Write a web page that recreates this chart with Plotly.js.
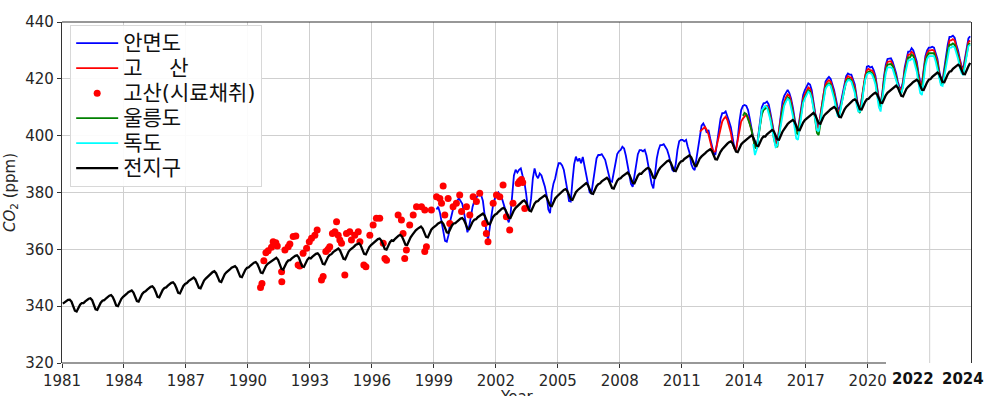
<!DOCTYPE html>
<html><head><meta charset="utf-8">
<script src="https://cdn.plot.ly/plotly-3.0.1.min.js"></script>
<style>html,body{margin:0;padding:0;background:#fff}#chart{width:996px;height:396px}</style>
</head><body><div id="chart"></div>
<script>
// ---- data (monthly series) ----
const globalStart = [1981, 1];
const globalCO2 = [
340.9,341.4,341.9,342.2,342.3,341.6,340.0,338.4,338.1,339.5,340.5,341.1,
341.1,341.7,342.2,342.6,342.8,342.1,340.5,338.9,338.7,340.1,341.2,341.9,
342.1,342.7,343.3,343.7,343.9,343.2,341.8,340.2,340.0,341.4,342.6,343.3,
343.7,344.3,344.9,345.3,345.5,344.8,343.4,341.8,341.6,343.0,344.2,344.9,
345.2,345.8,346.4,346.8,347.0,346.3,344.9,343.3,343.1,344.5,345.7,346.4,
346.6,347.2,347.8,348.2,348.4,347.7,346.3,344.7,344.5,345.9,347.1,347.8,
348.1,348.8,349.3,349.8,350.1,349.4,348.0,346.5,346.3,347.8,349.0,349.7,
350.3,351.0,351.5,352.0,352.3,351.6,350.2,348.7,348.5,350.0,351.2,351.9,
352.3,352.9,353.5,353.9,354.1,353.4,352.0,350.4,350.2,351.6,352.8,353.5,
353.7,354.3,354.9,355.3,355.5,354.8,353.4,351.8,351.6,353.0,354.2,354.9,
355.3,355.9,356.4,356.8,357.0,356.3,354.7,353.1,352.9,354.3,355.4,356.1,
356.2,356.8,357.3,357.7,357.9,357.2,355.6,354.0,353.8,355.2,356.3,357.0,
356.8,357.4,358.0,358.4,358.6,357.9,356.5,354.9,354.7,356.1,357.3,358.0,
358.3,359.0,359.5,360.0,360.3,359.6,358.2,356.7,356.5,358.0,359.2,359.9,
360.3,360.9,361.5,361.9,362.1,361.4,360.0,358.4,358.2,359.6,360.8,361.5,
362.0,362.6,363.2,363.6,363.8,363.1,361.7,360.1,359.9,361.3,362.5,363.2,
363.0,363.7,364.3,364.8,365.1,364.5,363.1,361.6,361.5,363.0,364.2,365.1,
366.0,366.7,367.2,367.7,368.0,367.3,365.9,364.4,364.2,365.7,366.9,367.6,
367.9,368.5,369.1,369.5,369.7,369.0,367.6,366.0,365.8,367.2,368.4,369.1,
369.2,369.8,370.4,370.8,371.0,370.3,368.9,367.3,367.1,368.5,369.7,370.4,
370.6,371.3,371.8,372.3,372.6,371.9,370.5,369.0,368.8,370.3,371.5,372.2,
372.5,373.2,373.8,374.3,374.6,374.0,372.6,371.1,371.0,372.5,373.7,374.6,
375.2,375.9,376.4,376.9,377.2,376.5,375.1,373.6,373.4,374.9,376.1,376.8,
377.0,377.7,378.2,378.7,379.0,378.3,376.9,375.4,375.2,376.7,377.9,378.6,
379.2,379.9,380.4,380.9,381.2,380.5,379.1,377.6,377.4,378.9,380.1,380.8,
381.3,382.0,382.5,383.0,383.3,382.6,381.2,379.7,379.5,381.0,382.2,382.9,
383.2,383.9,384.4,384.9,385.2,384.5,383.1,381.6,381.4,382.9,384.1,384.8,
385.0,385.7,386.2,386.7,387.0,386.3,384.9,383.4,383.2,384.7,385.9,386.6,
386.6,387.3,387.9,388.4,388.7,388.1,386.7,385.2,385.1,386.6,387.8,388.7,
389.3,390.0,390.5,391.0,391.3,390.6,389.2,387.7,387.5,389.0,390.2,390.9,
391.1,391.8,392.3,392.8,393.1,392.4,391.0,389.5,389.3,390.8,392.0,392.7,
393.1,393.8,394.4,394.9,395.2,394.6,393.2,391.7,391.6,393.1,394.3,395.2,
396.0,396.7,397.2,397.7,398.0,397.3,395.9,394.4,394.2,395.7,396.9,397.6,
398.1,398.8,399.3,399.8,400.1,399.4,398.0,396.5,396.3,397.8,399.0,399.7,
399.7,400.5,401.1,401.7,402.0,401.5,400.1,398.7,398.6,400.2,401.4,402.3,
403.4,404.1,404.7,405.2,405.5,404.9,403.5,402.0,401.9,403.4,404.6,405.5,
406.0,406.7,407.2,407.7,408.0,407.3,405.9,404.4,404.2,405.7,406.9,407.6,
408.0,408.7,409.3,409.8,410.1,409.5,408.1,406.6,406.5,408.0,409.2,410.1,
410.7,411.4,412.0,412.5,412.8,412.2,410.8,409.3,409.2,410.7,411.9,412.8,
413.0,413.7,414.3,414.8,415.1,414.5,413.1,411.6,411.5,413.0,414.2,415.1,
415.6,416.3,416.8,417.3,417.6,416.9,415.5,414.0,413.8,415.3,416.5,417.2,
417.6,418.3,418.9,419.4,419.7,419.1,417.7,416.2,416.1,417.6,418.8,419.7,
419.9,420.7,421.3,421.9,422.2,421.7,420.3,418.9,418.8,420.4,421.6,422.5,
422.7,423.5,424.1,424.7,425.0,424.5,423.1,421.7,421.6,423.2,424.4,425.6
];

const anmyeonStart = [1999, 2];
const anmyeonCO2 = [
374,375,373,370,366,363,362.7,365,370,373,375,
376,377,378,377,376,373,370,366,368,372,375,377,
378,379,380,379,377,372,366,363.5,367,372,376,378,
379,380,379,378,376,374,371,369.5,372,379,386,388,
387,388,388.5,386,384,380,375,373.8,378,385,388.5,386,
385,386.7,386,384,382,379,374,372.7,380,383.2,385,388,
390.3,390.3,389.5,387.9,385,381,377,376.8,384,390,392.6,391,
392,390.3,392.5,389,386,382,380,379.7,384,389,392,393.2,
393.2,393.5,392.5,391.5,389,386,384,383.8,387,391,393.5,394.5,
395,396.1,395.5,393,390,386,383,382,386,391,393.5,394.9,
394.9,394.5,395,393,390,386,383,381.4,387,392,395,396.7,
396.7,397,396,395,393,390,388,387.3,390,395,398,398.5,
398.5,398,398.5,396,394,390,388.5,387.9,392,397,401,403.5,
404.3,403,401,402,399,396,394,393.2,398,402,406,407.9,
407.9,408.5,407,405,403,399,396,394.9,399,405,409,410.5,
410.8,410.5,409,406,403,400,396,395.5,400,406,410,411.4,
411.5,412,411,408,405,401,398,397.3,402,408,412,414,
415,416.1,415,413,410,406,402.5,402,406,411,414.3,416,
417,418.4,418,416,412,408,404,403.1,407,412,416,419,
420,420.7,420,418,416,413,410,409,412,416,419,421,
421.9,421.5,421.5,420,418,414,410,409,413,418,422,424.3,
424.5,424,424.3,423,421,417,413,411.4,415,421,425,427,
427.2,427.2,426,424,422,419,417,416.6,419,424,427.5,429.6,
429.6,430.8,430,428,426,422,419,418.4,423,428,430,431,
431,431.3,431,429,427,423,420,419.6,424,428,432,434.8,
434.8,435.2,434.5,432,430,427,424.5,423.7,427,431,434.2,435
];

const gosanStart = [2011, 11];
const gosanCO2 = [
401.4,402,
402.5,403.1,402,400.5,398,395.5,394.3,394.5,397,400,403,405,
406,406.7,405.5,403.5,401,397.5,395.5,395,398,402,405,406,
406.7,407.5,406.5,404.5,402,399,396,395.5,399,404,408,409.5,
410,410.5,409.5,407,404,400,397.5,397.5,401,406,410,412,
413.5,414.5,414,412,409,405,402,401.5,405,409.5,413,414.5,
416,417,416.5,414.5,411,407,403.5,402.5,406,411,415,418,
419,419.5,419,417,415,412,409,408,411,415,418,420,
421,420.5,420.5,419,417,413,409.5,408.5,412,417,421,423,
423.5,423,423,422,420,416,412.5,411,414.5,420,424,426,
426,426.2,425,423,421,418,416.5,416,418.5,423,426.5,428.5,
428.5,429.5,429,427,425,421,418.5,418,422,427,429,430,
430,430.2,430,428,426,422,419.5,419,423,427,431,433.5,
433.5,434,433.5,431,429,426,424,423,426,430,433,433.5
];

const gosanSampleYear = [
1990.61,1990.68,1990.77,1990.87,1990.98,1991.14,1991.22,1991.35,1991.42,1991.63,
1991.64,1991.79,1991.95,1992.03,1992.19,1992.32,1992.43,1992.51,1992.67,1992.84,
1992.97,1993.08,1993.24,1993.35,1993.56,1993.64,1993.77,1993.88,1993.96,1994.09,
1994.21,1994.29,1994.37,1994.45,1994.53,1994.69,1994.77,1994.93,1995.01,1995.17,
1995.34,1995.42,1995.61,1995.71,1995.90,1996.06,1996.22,1996.38,1996.55,1996.63,
1996.71,1997.27,1997.43,1997.51,1997.59,1997.67,1997.83,1998.00,1998.16,1998.40,
1998.56,1998.56,1998.64,1998.88,1999.13,1999.29,1999.37,1999.45,1999.53,1999.69,
1999.77,1999.93,2000.09,2000.25,2000.34,2000.58,2000.74,2000.90,2001.06,2001.22,
2001.46,2001.54,2001.62,2001.87,2002.03,2002.19,2002.35,2002.51,2002.67,2002.83,
2003.08,2003.15,2003.24,2003.30,2003.40
];
const gosanSampleCO2 = [
346.6,348.0,356.0,358.8,359.5,360.7,362.7,362.3,361.2,352.1,
348.6,359.8,360.9,361.9,364.5,364.7,354.5,354.1,358.6,360.4,
362.7,363.9,365.0,366.8,349.2,350.4,359.2,360.0,360.9,365.6,
366.2,369.7,365.0,363.3,362.1,351.0,365.6,366.2,363.3,365.0,
366.2,362.7,354.5,353.9,365.0,368.6,370.9,370.9,362.1,356.8,
356.2,372.1,370.3,365.6,356.8,359.8,368.6,372.1,375.0,375.0,
373.8,359.2,360.9,373.8,378.5,377.9,376.2,382.3,372.1,377.9,
369.1,375.0,376.2,379.1,373.3,375.0,372.1,378.5,376.8,379.7,
369.1,365.6,362.7,376.2,379.1,378.5,382.6,371.5,366.8,376.2,
383.2,384.0,384.6,383.5,374.4
];

const ulleungStart = [2013, 12];
const ulleungCO2 = [
407,
408,407.5,406,404,402,399,396,395.5,399,404,407.5,409,
409.5,410,409,406.5,403,399,396.5,396,400,405,409,411,
412.5,413.5,413,411,408,404,401,400.5,404,408.5,412,413.5,
415,416,415.5,413.5,410,405,401,400.2,404,410,414,417,
418,418.5,418,416,414,411,408,407.5,410.5,414,417,419,
420,420,419.5,418,416,412,409,408,411,416,420,422,
422.5,422.5,422,421,419,415,411.5,410,413.5,419,423,425,
425,425.2,424.5,422.5,420.5,417.5,415.5,415,417.5,422,425.5,427.5,
427.5,428.5,428,426,424,420,417,416.5,421,426,428,429,
429,429,429,427,425,421,418.5,418,422,426,430,432,
432,432.5,432,430,428,425,423,422,425,429,432,432.5
];

const dokdoStart = [2014, 6];
const dokdoCO2 = [
397,393.2,395,399,404,409,410,
410.5,410,408,405.5,402,398.5,396,396.5,400,405,408.5,410.5,
412,413,412.5,410,407,403,399,398.5,403,408,411.5,413,
414.5,415.5,415,413,409.5,405,402,401.5,405,409.5,413.5,416.5,
417.5,418,417.5,415.5,413,410,407,406.7,410,413.5,416.5,418.5,
419.5,419.5,419,417,415,411,408.5,408.4,410.5,415.5,419.5,421.5,
422,422,421.5,420,418,414,410,408.5,412.5,418,422,424,
424,424,423.5,421.5,419.5,417,415.5,415,417,421,424.5,426.5,
426.5,427,427,425,422.5,418.5,415,414.3,419,424.5,427,428,
428,428,428,426,423.5,420,417.8,417.5,421,425,429,431,
431,431.5,431,429,427,424,422,421.3,424.5,428.5,431.5,432
];

const tickYears = [1981,1984,1987,1990,1993,1996,1999,2002,2005,2008,2011,2014,2017,2020];
const tickLabels = ['1981','1984','1987','1990','1993','1996','1999','2002','2005','2008','2011','2014','2017','2020'];
const extraGridYear = 2023;
const boldLabels = ['2022','2024'];
const boldLabelYears = [2022.2, 2024.6];
const seriesNames = ['안면도','고\u00a0\u00a0\u00a0\u00a0산','고산(시료채취)','울릉도','독도','전지구'];

// time index for monthly series (month centres, decimal years)
function monthlyX(start, n) {
  const xs = [];
  for (let i = 0; i < n; i++) xs.push(start[0] + (start[1] - 1 + i + 0.5) / 12);
  return xs;
}
function legendName(s) { return '<span style="font-size:21px">' + s + '</span>'; }

const lineW = 1.8;
const traces = [
  {name:legendName(seriesNames[0]), x: monthlyX(anmyeonStart, anmyeonCO2.length), y: anmyeonCO2, mode:'lines', line:{color:'#0000ff', width:lineW}},
  {name:legendName(seriesNames[1]), x: monthlyX(gosanStart, gosanCO2.length), y: gosanCO2, mode:'lines', line:{color:'#ff0000', width:lineW}},
  {name:legendName(seriesNames[2]), x: gosanSampleYear, y: gosanSampleCO2, mode:'markers', marker:{color:'#ff0000', size:7}},
  {name:legendName(seriesNames[3]), x: monthlyX(ulleungStart, ulleungCO2.length), y: ulleungCO2, mode:'lines', line:{color:'#008000', width:lineW}},
  {name:legendName(seriesNames[4]), x: monthlyX(dokdoStart, dokdoCO2.length), y: dokdoCO2, mode:'lines', line:{color:'#00ffff', width:lineW}},
  {name:legendName(seriesNames[5]), x: monthlyX(globalStart, globalCO2.length), y: globalCO2, mode:'lines', line:{color:'#000000', width:2.3}}
];

const tickFont = {family:'DejaVu Sans', size:15, color:'#262626'};
const gridColor = '#cfcfcf';
const layout = {
  width: 996, height: 396,
  margin: {l:62, r:25, t:22, b:33},
  paper_bgcolor:'#ffffff', plot_bgcolor:'#ffffff',
  showlegend: true,
  xaxis: {
    range:[1981, 2025], tickmode:'array', tickvals: tickYears, ticktext: tickLabels,
    showgrid:true, gridcolor:gridColor, gridwidth:1, zeroline:false,
    showline:false, ticks:'outside', ticklen:4, tickcolor:'#333',
    tickfont: tickFont, automargin:false
  },
  yaxis: {
    range:[320, 440], tickmode:'linear', tick0:320, dtick:20,
    showgrid:true, gridcolor:gridColor, gridwidth:1, zeroline:false,
    showline:true, mirror:true, linecolor:'#333', linewidth:1.2,
    ticks:'outside', ticklen:4, tickcolor:'#333', tickfont: tickFont, automargin:false,
    title:{text:'<i>CO</i><sub>2</sub> (ppm)', font:{family:'DejaVu Sans', size:15, color:'#262626'}, standoff:6}
  },
  shapes: [
    {type:'line', xref:'x', yref:'paper', x0:extraGridYear, x1:extraGridYear, y0:0, y1:1, layer:'below', line:{color:gridColor, width:1}},
    {type:'line', xref:'paper', yref:'paper', x0:0, x1:0.9065, y0:0, y1:0, line:{color:'#333', width:1.2}},
    {type:'line', xref:'paper', yref:'paper', x0:0, x1:1, y0:1, y1:1, line:{color:'#333', width:1.2}}
  ],
  annotations: boldLabels.map((t, i) => ({
    text:'<b>' + t + '</b>', x:boldLabelYears[i], xref:'x', y:-0.047, yref:'paper',
    showarrow:false, yanchor:'middle', xanchor:'center',
    font:{family:'DejaVu Sans', size:15, color:'#111'}
  })).concat([{
    text:'Year', x:0.5, xref:'paper', y:-0.066, yref:'paper',
    showarrow:false, yanchor:'top', xanchor:'center',
    font:{family:'DejaVu Sans', size:15, color:'#262626'}
  }]),
  legend: {
    x:0.009, y:0.992, xanchor:'left', yanchor:'top',
    bgcolor:'rgba(255,255,255,0.9)', bordercolor:'#d8d8d8', borderwidth:1,
    font:{family:'DejaVu Sans, Noto Sans CJK KR', size:16.9, color:'#111'},
    itemwidth:42, tracegroupgap:0
  }
};

Plotly.newPlot('chart', traces, layout, {displayModeBar:false, staticPlot:true});
</script></body></html>
